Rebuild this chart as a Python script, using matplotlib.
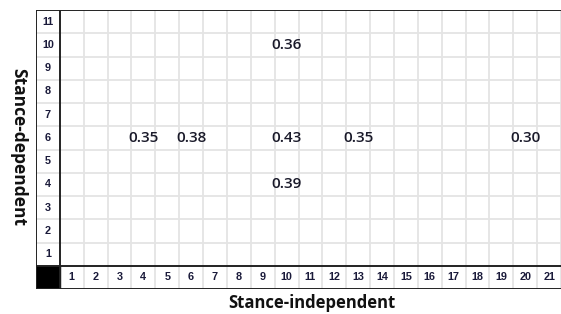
import matplotlib
matplotlib.use("Agg")
import matplotlib.pyplot as plt
from matplotlib.patches import Rectangle

# Data
n_cols = 21
n_rows = 11
col_labels = [str(i) for i in range(1, n_cols + 1)]
row_labels = [str(i) for i in range(1, n_rows + 1)]
val_x = [10, 4, 6, 10, 13, 20, 10]
val_y = [10, 6, 6, 6, 6, 6, 4]
val_text = ["0.36", "0.35", "0.38", "0.43", "0.35", "0.30", "0.39"]
xlabel = "Stance-independent"
ylabel = "Stance-dependent"

W, H = 561, 314
fig = plt.figure(figsize=(W / 100, H / 100), dpi=100)
left, top, right, bottom = 36, 10, 561, 289
ax = fig.add_axes([left / W, (H - bottom) / H, (right - left) / W, (bottom - top) / H])
ax.set_xlim(0, n_cols + 1)
ax.set_ylim(0, n_rows + 1)
ax.axis("off")

grid_c = "#e4e4e4"
# grid lines
for i in range(2, n_cols + 2):
    ax.plot([i, i], [0, n_rows + 1], color=grid_c, lw=1.3, zorder=1, solid_capstyle="butt")
for j in range(2, n_rows + 1):
    ax.plot([0, n_cols + 1], [j, j], color=grid_c, lw=1.3, zorder=1, solid_capstyle="butt")

# black corner
ax.add_patch(Rectangle((0, 0), 1, 1, color="black", zorder=2))

# thick borders
bk = dict(color="#222222", lw=1.4, zorder=3, solid_capstyle="butt")
ax.plot([0, 0], [0, n_rows + 1], **bk)
ax.plot([1, 1], [0, n_rows + 1], **bk)
ax.plot([0, n_cols + 1], [n_rows + 1, n_rows + 1], **bk)
ax.plot([0, n_cols + 1], [1, 1], **bk)
ax.plot([0, n_cols + 1], [0, 0], **bk)

hdr = dict(fontsize=7.8, fontweight="bold", family="Liberation Sans", color="#1a1a3a",
           ha="center", va="center", zorder=4)
for i, lab in enumerate(col_labels):
    ax.text(i + 1.5, 0.5, lab, **hdr)
for j, lab in enumerate(row_labels):
    ax.text(0.5, j + 1.5, lab, **hdr)

for x, y, t in zip(val_x, val_y, val_text):
    ax.text(x + 0.5, y + 0.5, t, fontsize=11, family="Open Sans", fontweight="semibold",
            color="#1a1a2a", ha="center", va="center", zorder=4)

fig.text(312 / W, 1 - 303 / H, xlabel, fontsize=12, fontweight="bold", family="Open Sans",
         ha="center", va="center", color="#111111")
fig.text(18 / W, 1 - 147 / H, ylabel, fontsize=12.5, fontweight="bold", family="Open Sans",
         ha="center", va="center", rotation=-90, color="#111111")

fig.savefig("out.png", dpi=100)
